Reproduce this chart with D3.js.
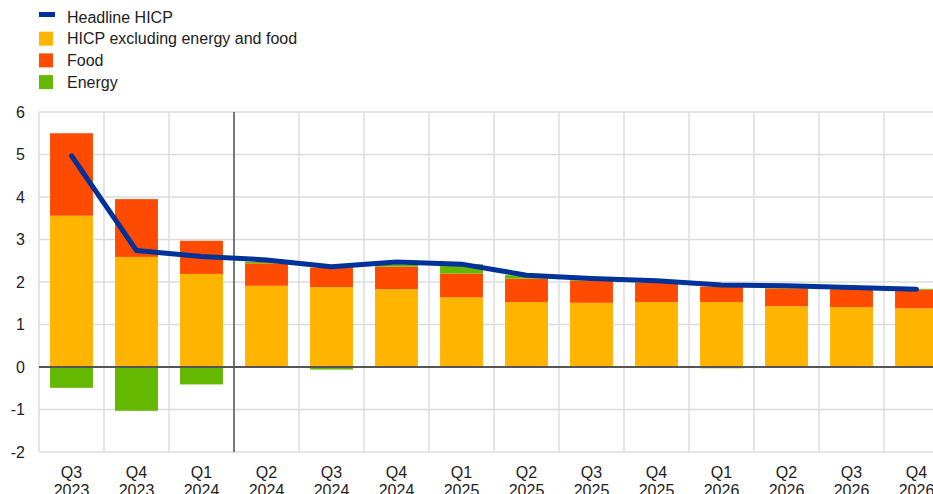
<!DOCTYPE html>
<html>
<head>
<meta charset="utf-8">
<script src="https://cdn.jsdelivr.net/npm/d3@7"></script>
<style>
  body { margin: 0; background: #fff; }
  svg { display: block; font-family: Arial, "Liberation Sans", sans-serif; }
</style>
</head>
<body>
<script>
// quarters shown on the x axis
var quarters = ['Q3', 'Q4', 'Q1', 'Q2', 'Q3', 'Q4', 'Q1', 'Q2', 'Q3', 'Q4', 'Q1', 'Q2', 'Q3', 'Q4']
var years = ['2023', '2023', '2024', '2024', '2024', '2024', '2025', '2025', '2025', '2025', '2026', '2026', '2026', '2026']

// contributions, percentage points
var core = [3.56, 2.59, 2.19, 1.91, 1.88, 1.83, 1.64, 1.53, 1.51, 1.53, 1.53, 1.43, 1.41, 1.38]
var food = [1.94, 1.36, 0.78, 0.53, 0.46, 0.53, 0.56, 0.55, 0.52, 0.45, 0.36, 0.42, 0.42, 0.44]
var energy = [-0.49, -1.03, -0.41, 0.04, -0.06, 0.05, 0.22, 0.08, 0.02, 0.01, -0.03, 0.02, 0.01, 0.02]
var headline = [4.97, 2.74, 2.6, 2.52, 2.36, 2.47, 2.42, 2.16, 2.08, 2.03, 1.93, 1.91, 1.87, 1.83]

var yTicks = [-2, -1, 0, 1, 2, 3, 4, 5, 6]

var colors = { headline: '#003299', core: '#ffb400', food: '#ff4b00', energy: '#65b800' }

var W = 933, H = 494
var margin = { top: 112, left: 39, bottom: 42 }

var svg = d3.select('body').append('svg')
  .attr('width', W)
  .attr('height', H)

var idx = quarters.map(function(q, i) { return i })

var x = d3.scaleBand()
  .domain(idx)
  .range([margin.left, margin.left + 14 * 65])
  .paddingInner(0.34)
  .paddingOuter(0.17)

var y = d3.scaleLinear()
  .domain([-2, 6])
  .range([H - margin.bottom, margin.top])

// gridlines
var grid = svg.append('g')
grid.selectAll('.hgrid')
  .data(yTicks)
  .enter().append('line')
  .attr('x1', margin.left).attr('x2', W)
  .attr('y1', function(d) { return y(d) }).attr('y2', function(d) { return y(d) })
  .attr('stroke', '#dcdcdc').attr('stroke-width', 1.5)

var step = x.step()
grid.selectAll('.vgrid')
  .data(d3.range(15))
  .enter().append('line')
  .attr('x1', function(d) { return margin.left + d * step })
  .attr('x2', function(d) { return margin.left + d * step })
  .attr('y1', y(6)).attr('y2', y(-2))
  .attr('stroke', '#dcdcdc').attr('stroke-width', 1.5)

// stacked bars
var bars = svg.append('g')
idx.forEach(function(i) {
  var segs = [
    { v: core[i], c: colors.core },
    { v: food[i], c: colors.food },
    { v: energy[i], c: colors.energy }
  ]
  var pos = 0, neg = 0
  segs.forEach(function(s) {
    var y0, y1
    if (s.v >= 0) { y0 = pos; y1 = pos + s.v; pos = y1 }
    else { y0 = neg + s.v; y1 = neg; neg = y0 }
    bars.append('rect')
      .attr('x', x(i))
      .attr('width', x.bandwidth())
      .attr('y', y(y1))
      .attr('height', y(y0) - y(y1))
      .attr('fill', s.c)
  })
})

// zero line
svg.append('line')
  .attr('x1', margin.left).attr('x2', W)
  .attr('y1', y(0)).attr('y2', y(0))
  .attr('stroke', '#555').attr('stroke-width', 2)

// projection start divider
svg.append('line')
  .attr('x1', margin.left + 3 * step).attr('x2', margin.left + 3 * step)
  .attr('y1', y(6)).attr('y2', y(-2))
  .attr('stroke', '#555').attr('stroke-width', 1.5)

// headline line
var line = d3.line()
  .x(function(d, i) { return x(i) + x.bandwidth() / 2 })
  .y(function(d) { return y(d) })

svg.append('path')
  .datum(headline)
  .attr('d', line)
  .attr('fill', 'none')
  .attr('stroke', colors.headline)
  .attr('stroke-width', 5)
  .attr('stroke-linejoin', 'round')
  .attr('stroke-linecap', 'round')

// y axis labels
svg.append('g').selectAll('text')
  .data(yTicks)
  .enter().append('text')
  .attr('x', 25)
  .attr('y', function(d) { return y(d) })
  .attr('dy', '0.35em')
  .attr('text-anchor', 'end')
  .attr('font-size', 16)
  .attr('fill', '#222')
  .text(function(d) { return d })

// x axis labels
var xl = svg.append('g').selectAll('text')
  .data(idx)
  .enter().append('text')
  .attr('text-anchor', 'middle')
  .attr('font-size', 16)
  .attr('fill', '#222')
xl.append('tspan')
  .attr('x', function(i) { return x(i) + x.bandwidth() / 2 })
  .attr('y', 477.5)
  .text(function(i) { return quarters[i] })
xl.append('tspan')
  .attr('x', function(i) { return x(i) + x.bandwidth() / 2 })
  .attr('y', 496)
  .text(function(i) { return years[i] })

// legend
var legendItems = [
  { label: 'Headline HICP', c: colors.headline, line: true },
  { label: 'HICP excluding energy and food', c: colors.core },
  { label: 'Food', c: colors.food },
  { label: 'Energy', c: colors.energy }
]
var lg = svg.append('g').selectAll('g')
  .data(legendItems)
  .enter().append('g')
  .attr('transform', function(d, i) { return 'translate(39,' + (17 + i * 21.7) + ')' })
lg.append('rect')
  .attr('x', 0)
  .attr('y', function(d) { return d.line ? -5 : -7 })
  .attr('width', function(d) { return d.line ? 16 : 14 })
  .attr('height', function(d) { return d.line ? 5 : 14 })
  .attr('fill', function(d) { return d.c })
lg.append('text')
  .attr('x', 28)
  .attr('dy', '0.35em')
  .attr('font-size', 16)
  .attr('fill', '#222')
  .text(function(d) { return d.label })
</script>
</body>
</html>
